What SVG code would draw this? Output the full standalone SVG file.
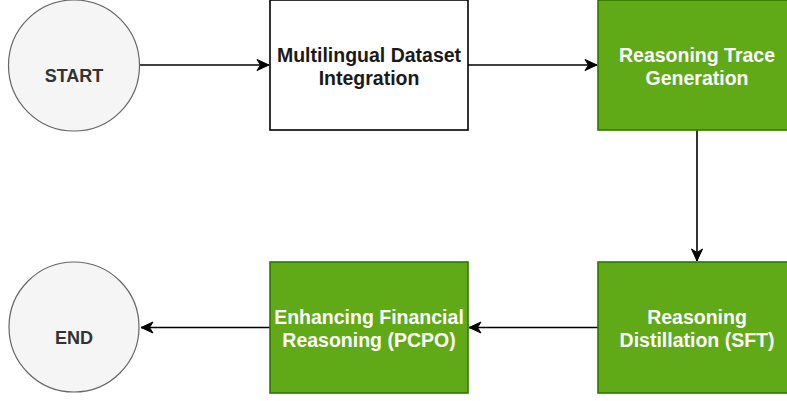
<svg xmlns="http://www.w3.org/2000/svg" width="787" height="401" viewBox="0 0 787 401">
<style>
.term{fill:#f5f5f5;stroke:#666666;stroke-width:1.2}
.termt{font-family:"Liberation Sans",Arial,sans-serif;font-weight:bold;font-size:18px;fill:#333333;text-anchor:middle}
.box{fill:#ffffff;stroke:#000000;stroke-width:1.6}
.gbox{fill:#60a917;stroke:#2d7600;stroke-width:1.6}
.t{font-family:"Liberation Sans",Arial,sans-serif;font-weight:bold;font-size:19.5px;text-anchor:middle}
.dark{fill:#1a1a1a}
.light{fill:#ffffff}
.edge{fill:none;stroke:#000000;stroke-width:1.6}
</style>
<defs>
<marker id="arr" markerUnits="userSpaceOnUse" markerWidth="16" markerHeight="14" viewBox="-13 -7 16 14" refX="0" refY="0" orient="auto">
<path d="M0,0 L-12,-5.5 L-8.5,0 L-12,5.5 Z" fill="#000000" stroke="#000000" stroke-width="1"/>
</marker>
</defs>
<g id="connectors">
<line class="edge" x1="140" y1="65" x2="269" y2="65" marker-end="url(#arr)"/>
<line class="edge" x1="468" y1="65" x2="597" y2="65" marker-end="url(#arr)"/>
<line class="edge" x1="697" y1="130" x2="697" y2="261" marker-end="url(#arr)"/>
<line class="edge" x1="598" y1="327.5" x2="469" y2="327.5" marker-end="url(#arr)"/>
<line class="edge" x1="270" y1="327.5" x2="141" y2="327.5" marker-end="url(#arr)"/>
</g>
<g id="start">
<circle class="term" cx="74" cy="65.5" r="65.5"/>
<text class="termt" x="74" y="81.5">START</text>
</g>
<g id="dataset">
<rect class="box" x="270" y="0" width="198" height="130"/>
<text class="t dark" x="369" y="61.5">Multilingual Dataset</text>
<text class="t dark" x="369" y="84.5">Integration</text>
</g>
<g id="trace">
<rect class="gbox" x="598" y="0" width="198" height="130"/>
<text class="t light" x="697" y="61.5">Reasoning Trace</text>
<text class="t light" x="697" y="84.5">Generation</text>
</g>
<g id="distill">
<rect class="gbox" x="598" y="262" width="198" height="131"/>
<text class="t light" x="697" y="324">Reasoning</text>
<text class="t light" x="697" y="347">Distillation (SFT)</text>
</g>
<g id="pcpo">
<rect class="gbox" x="270" y="262" width="198" height="131"/>
<text class="t light" x="369" y="324">Enhancing Financial</text>
<text class="t light" x="369" y="347">Reasoning (PCPO)</text>
</g>
<g id="end">
<circle class="term" cx="74" cy="327" r="65"/>
<text class="termt" x="74" y="344">END</text>
</g>
</svg>
